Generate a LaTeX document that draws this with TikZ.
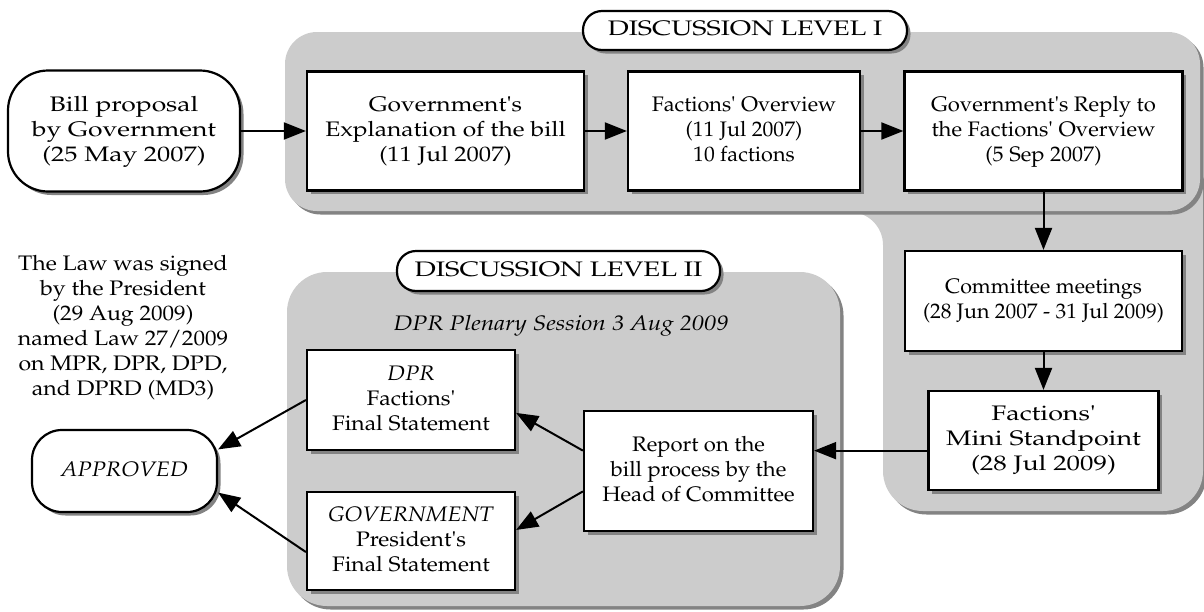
\documentclass[tikz,border=0pt]{standalone}
\usepackage[T1]{fontenc}
\usepackage{mathpazo}
\usepackage{graphicx}
\usetikzlibrary{arrows.meta,shadows}

\definecolor{fondgris}{HTML}{CCCCCC}
\definecolor{ombre}{HTML}{838383}

\tikzset{
  ombree/.style={drop shadow={shadow xshift=3.5pt,shadow yshift=-3.5pt,fill=ombre,opacity=1}},
  texte/.style={font=\fontsize{21}{25}\selectfont, align=center, inner sep=0pt},
  boite/.style={texte, draw, line width=2.2pt, fill=white, ombree},
  pilule/.style={boite, rounded corners=19pt},
  fleche/.style={line width=2pt, -{Triangle[length=22pt,width=17pt]}},
  zone/.style={fill=fondgris, ombree}
}
\newcommand{\ap}{\textquotesingle}
%% texte elargi horizontalement
\newcommand{\etire}[2]{\scalebox{#1}[1]{\begin{tabular}{@{}c@{}}#2\end{tabular}}}

\begin{document}
\begin{tikzpicture}[x=1pt,y=-1pt]
\useasboundingbox (0,0) rectangle (1204,611);

%% les zones grises
\fill[zone, rounded corners=40pt] (883,150) rectangle (1203,511);
\fill[fondgris] (850,212) arc[start angle=-90, end angle=0, radius=33] -- (883,212) -- cycle;
\fill[zone, rounded corners=32pt] (285,32) rectangle (1200,211);
\fill[zone, rounded corners=40pt] (287,272) rectangle (840,606);

%% niveau I
\node[pilule, minimum width=324pt, minimum height=39pt] (niv1) at (745,30.5) {\etire{1.29}{DISCUSSION LEVEL I}};
\node[boite, minimum width=232pt, minimum height=121pt, rounded corners=40pt] (bill) at (124,131) {\etire{1.26}{Bill proposal\\by Government\\(25 May 2007)}};
\node[boite, minimum width=277pt, minimum height=119pt] (expl) at (445.5,131) {\etire{1.17}{Government\ap s\\Explanation of the bill\\(11 Jul 2007)}};
\node[boite, minimum width=232pt, minimum height=119pt] (vue) at (744,131) {\etire{1.03}{Factions\ap{} Overview\\(11 Jul 2007)\\10 factions}};
\node[boite, minimum width=278pt, minimum height=119pt] (reponse) at (1043.5,131) {\etire{1.05}{Government\ap s Reply to\\the Factions\ap{} Overview\\(5 Sep 2007)}};

%% colonne de droite
\node[boite, minimum width=277pt, minimum height=100pt] (comm) at (1043.5,301) {\etire{1.02}{Committee meetings\\(28 Jun 2007 - 31 Jul 2009)}};
\node[boite, minimum width=230pt, minimum height=99pt] (mini) at (1043.5,440.5) {\etire{1.28}{Factions\ap\\Mini Standpoint\\(28 Jul 2009)}};

%% niveau II
\node[pilule, minimum width=323pt, minimum height=40pt] (niv2) at (558.5,271) {\etire{1.31}{DISCUSSION LEVEL II}};
\node[texte] (pleniere) at (561,325) {\etire{1.16}{\itshape DPR Plenary Session 3 Aug 2009}};
\node[boite, minimum width=229pt, minimum height=120pt] (rapport) at (698.5,471) {\etire{1.05}{Report on the\\bill process by the\\Head of Committee}};
\node[boite, minimum width=208pt, minimum height=100pt] (dpr) at (411,400) {\etire{1.09}{\textit{DPR}\\Factions\ap\\Final Statement}};
\node[boite, minimum width=208pt, minimum height=98pt] (gouv) at (411,541) {\etire{1.09}{\textit{GOVERNMENT}\\President\ap s\\Final Statement}};

%% a gauche
\node[texte] (signe) at (123,327.5) {\etire{1.1}{The Law was signed\\by the President\\(29 Aug 2009)\\named Law 27/2009\\on MPR, DPR, DPD,\\and DPRD (MD3)}};
\node[boite, minimum width=185pt, minimum height=82pt, rounded corners=30pt] (approuve) at (124.5,471) {\etire{1.1}{\textit{APPROVED}}};

%% les fleches
\draw[fleche] (bill.east) -- (expl.west);
\draw[fleche] (expl.east) -- (vue.west);
\draw[fleche] (vue.east) -- (reponse.west);
\draw[fleche] (reponse.south) -- (comm.north);
\draw[fleche] (comm.south) -- (mini.north);
\draw[fleche] (mini.185) -- (mini.185 -| rapport.east);
\draw[fleche] (rapport.170) -- (dpr.353);
\draw[fleche] (rapport.190) -- (gouv.6);
\draw[fleche] (dpr.west) -- (approuve.13);
\draw[fleche] (gouv.186) -- (approuve.347);

\end{tikzpicture}
\end{document}
